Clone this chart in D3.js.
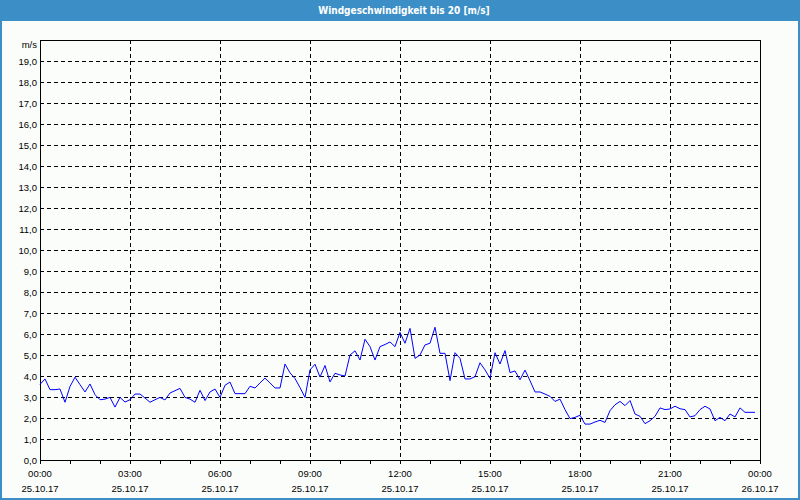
<!DOCTYPE html>
<html><head><meta charset="utf-8">
<script src="https://cdn.jsdelivr.net/npm/d3@7"></script>
<style>html,body{margin:0;padding:0;background:#fff;}svg{display:block;}</style>
</head><body>
<script>
const title = "Windgeschwindigkeit bis 20 [m/s]";
const unitLabel = "m/s";
const startTime = Date.UTC(2017, 9, 25, 0, 0);
const endTime = Date.UTC(2017, 9, 26, 0, 0);
const stepMinutes = 10;
const windSpeed = [
  3.6,3.86,3.35,3.35,3.38,2.75,3.5,3.94,3.59,3.24,
  3.62,3.11,2.87,2.9,2.98,2.52,2.98,2.76,2.87,3.14,
  3.14,2.95,2.75,2.87,2.98,2.86,3.19,3.3,3.41,2.98,
  2.9,2.75,3.32,2.83,3.24,3.38,2.98,3.56,3.71,3.16,
  3.16,3.16,3.51,3.43,3.67,3.9,3.67,3.43,3.43,4.57,
  4.15,3.88,3.45,2.98,4.29,4.56,3.95,4.5,3.72,4.13,
  4.05,4.0,5.0,5.2,4.76,5.75,5.4,4.76,5.4,5.5,
  5.62,5.4,6.08,5.56,6.27,4.84,5.0,5.48,5.56,6.32,
  5.08,5.08,3.78,5.11,4.84,3.86,3.86,3.97,4.63,4.29,
  3.89,5.11,4.57,5.21,4.16,4.24,3.82,4.28,3.78,3.24,
  3.24,3.14,3.03,2.79,2.9,2.4,1.97,2.03,2.13,1.71,
  1.71,1.81,1.89,1.79,2.35,2.63,2.79,2.59,2.83,2.19,
  2.08,1.73,1.87,2.08,2.48,2.4,2.43,2.56,2.44,2.4,
  2.05,2.11,2.4,2.56,2.43,1.87,2.03,1.87,2.19,2.05,
  2.48,2.27,2.27,2.27
];
const yTicks = [0,1,2,3,4,5,6,7,8,9,10,11,12,13,14,15,16,17,18,19];
const yTickLabels = ["0,0","1,0","2,0","3,0","4,0","5,0","6,0","7,0","8,0","9,0","10,0","11,0","12,0","13,0","14,0","15,0","16,0","17,0","18,0","19,0"];
const xTickHours = [0,3,6,9,12,15,18,21,24];
const xTimeLabels = ["00:00","03:00","06:00","09:00","12:00","15:00","18:00","21:00","00:00"];
const xDateLabels = ["25.10.17","25.10.17","25.10.17","25.10.17","25.10.17","25.10.17","25.10.17","25.10.17","26.10.17"];

const W = 800, H = 500;
const m = {left: 40, right: 40, top: 40, bottom: 40};
const svg = d3.select("body").append("svg").attr("width", W).attr("height", H);

// frame
svg.append("rect").attr("x",0).attr("y",0).attr("width",W).attr("height",H).attr("fill","#3c8fc6");
svg.append("rect").attr("x",2).attr("y",21).attr("width",W-4).attr("height",H-23).attr("fill","#fbfdfb");
svg.append("text").attr("x",W/2 + 4).attr("y",14).attr("text-anchor","middle")
  .attr("fill","#ffffff").style("font-family","'DejaVu Sans Condensed', 'DejaVu Sans', sans-serif").style("font-size","10px").style("font-weight","bold")
  .text(title);

const x = d3.scaleUtc().domain([startTime, endTime]).range([m.left, W - m.right]);
const y = d3.scaleLinear().domain([0, 20]).range([H - m.bottom, m.top]);

const data = windSpeed.map((v, i) => ({t: startTime + i * stepMinutes * 60000, v}));

const g = svg.append("g");
const font = "'Liberation Sans', Arial, sans-serif";

// horizontal grid
g.selectAll(".hg").data(yTicks.filter(d => d > 0)).enter().append("line")
  .attr("x1", m.left).attr("x2", W - m.right)
  .attr("y1", d => Math.round(y(d)) + 0.5).attr("y2", d => Math.round(y(d)) + 0.5)
  .attr("stroke","#000").attr("stroke-dasharray","4,3").attr("shape-rendering","crispEdges");
// vertical grid
g.selectAll(".vg").data(xTickHours.filter(h => h > 0 && h < 24)).enter().append("line")
  .attr("x1", h => Math.round(x(startTime + h*3600000)) + 0.5).attr("x2", h => Math.round(x(startTime + h*3600000)) + 0.5)
  .attr("y1", m.top).attr("y2", H - m.bottom)
  .attr("stroke","#000").attr("stroke-dasharray","4,3").attr("shape-rendering","crispEdges");

// border box
g.append("rect").attr("x", m.left + 0.5).attr("y", m.top + 0.5)
  .attr("width", W - m.left - m.right).attr("height", H - m.top - m.bottom)
  .attr("fill","none").attr("stroke","#000").attr("shape-rendering","crispEdges");

// hourly ticks
const hours = d3.range(0, 25);
g.selectAll(".tk").data(hours).enter().append("line")
  .attr("x1", h => Math.round(x(startTime + h*3600000)) + 0.5).attr("x2", h => Math.round(x(startTime + h*3600000)) + 0.5)
  .attr("y1", H - m.bottom).attr("y2", H - m.bottom + 4)
  .attr("stroke","#000").attr("shape-rendering","crispEdges");

// y labels
g.selectAll(".yl").data(yTicks).enter().append("text")
  .attr("x", 37).attr("y", d => y(d) + 3.5).attr("text-anchor","end")
  .style("font-family", font).style("font-size","9.5px").attr("fill","#000")
  .text((d, i) => yTickLabels[i]);
g.append("text").attr("x", 37).attr("y", 48).attr("text-anchor","end")
  .style("font-family", font).style("font-size","9.5px").text(unitLabel);

// x labels
xTickHours.forEach((h, i) => {
  const px = x(startTime + h*3600000);
  g.append("text").attr("x", px).attr("y", 477).attr("text-anchor","middle")
    .style("font-family", font).style("font-size","9.5px").text(xTimeLabels[i]);
  g.append("text").attr("x", px).attr("y", 492).attr("text-anchor","middle")
    .style("font-family", font).style("font-size","9.5px").text(xDateLabels[i]);
});

// line
const line = d3.line().x(d => x(d.t)).y(d => y(d.v));
g.append("path").datum(data).attr("d", line).attr("fill","none")
  .attr("stroke","#0000ff").attr("stroke-width",1);
</script>
</body></html>
